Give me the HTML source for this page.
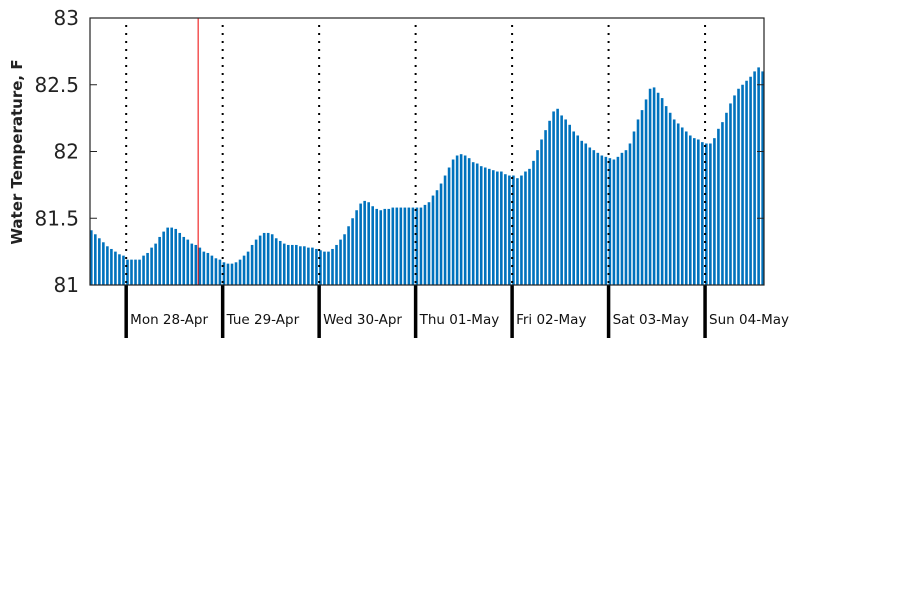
<!DOCTYPE html>
<html><head><meta charset="utf-8"><style>
html,body{margin:0;padding:0;background:#fff;}
svg{display:block;font-family:"DejaVu Sans","Liberation Sans",sans-serif;}
</style></head><body>
<svg id="chart" width="900" height="600" viewBox="0 0 900 600" xmlns="http://www.w3.org/2000/svg">
<g id="bars"></g>
<g id="grid"></g>
<g id="axes"></g>
<text transform="translate(22,152) rotate(-90)" text-anchor="middle" font-size="15" font-weight="bold" fill="#222">Water Temperature, F</text>
</svg>
<script>
const values = [81.41,81.38,81.35,81.32,81.29,81.27,81.25,81.23,81.22,
81.19,81.19,81.19,81.19,81.22,81.24,81.28,81.31,81.36,81.40,81.43,81.43,81.42,81.39,81.36,81.34,81.31,81.30,81.28,81.25,81.24,81.22,81.20,81.19,81.17,
81.16,81.16,81.17,81.19,81.22,81.25,81.30,81.34,81.37,81.39,81.39,81.38,81.35,81.33,81.31,81.30,81.30,81.30,81.29,81.29,81.28,81.28,81.27,81.26,
81.25,81.25,81.27,81.30,81.34,81.38,81.44,81.50,81.56,81.61,81.63,81.62,81.59,81.57,81.56,81.57,81.57,81.58,81.58,81.58,81.58,81.58,81.58,81.58,
81.58,81.60,81.62,81.67,81.71,81.76,81.82,81.88,81.94,81.97,81.98,81.97,81.95,81.92,81.91,81.89,81.88,81.87,81.86,81.85,81.85,81.83,81.82,81.82,
81.80,81.82,81.85,81.87,81.93,82.01,82.09,82.16,82.23,82.30,82.32,82.27,82.24,82.20,82.15,82.12,82.08,82.06,82.03,82.01,81.99,81.97,81.96,81.95,
81.94,81.96,81.99,82.01,82.06,82.15,82.24,82.31,82.39,82.47,82.48,82.44,82.40,82.34,82.29,82.24,82.21,82.18,82.15,82.12,82.10,82.09,82.07,82.06,
82.06,82.10,82.17,82.22,82.29,82.36,82.42,82.47,82.50,82.53,82.56,82.60,82.63,82.60];
const startHour = -9; // first bar hour relative to Mon 28-Apr 00:00
const dayLabels = ["Mon 28-Apr","Tue 29-Apr","Wed 30-Apr","Thu 01-May","Fri 02-May","Sat 03-May","Sun 04-May"];
const yTicks = [81,81.5,82,82.5,83];
const yTickLabels = ["81","81.5","82","82.5","83"];
const markerHour = 17.9;

const NS="http://www.w3.org/2000/svg";
const L=90,R=764,T=18,B=285;
const hStep=4.02;
const x=h=>L+(h-startHour)*hStep;
const y=v=>B-(v-81)/(83-81)*(B-T);
function mk(tag,attrs,parent){const e=document.createElementNS(NS,tag);for(const k in attrs)e.setAttribute(k,attrs[k]);parent.appendChild(e);return e;}
const gb=document.getElementById('bars'),gg=document.getElementById('grid'),ga=document.getElementById('axes');
values.forEach((v,i)=>{
  const h=startHour+i;
  const r=mk('rect',{x:x(h),y:y(v),width:2.6,height:B-y(v),fill:'#0072bd'},gb);
  
  
});
dayLabels.forEach((lab,d)=>{
  const xx=x(d*24);
  const dl=mk('line',{x1:xx,x2:xx,y1:T+7,y2:B,stroke:'#000','stroke-width':2,'stroke-dasharray':'2,6'},gg);
  
  
  const tk=mk('line',{x1:xx,x2:xx,y1:B,y2:338,stroke:'#000','stroke-width':3.5},ga);
  
  
  const t=mk('text',{x:xx+4,y:324,'font-size':13.5,fill:'#111'},ga);
  t.textContent=lab;
  
  
});
const red=mk('line',{x1:x(markerHour),x2:x(markerHour),y1:T,y2:B,stroke:'#e00','stroke-width':1},gg);


const frame=mk('rect',{x:L,y:T,width:R-L,height:B-T,fill:'none',stroke:'#222','stroke-width':1.2},ga);


yTicks.forEach((v,i)=>{
  const yy=y(v);
  mk('line',{x1:L,x2:L+7,y1:yy,y2:yy,stroke:'#222','stroke-width':1},ga);
  mk('line',{x1:R-7,x2:R,y1:yy,y2:yy,stroke:'#222','stroke-width':1},ga);
  const t=mk('text',{x:79,y:yy+7,'font-size':20,'text-anchor':'end',fill:'#222'},ga);
  t.textContent=yTickLabels[i];
  
  
});
</script>
</body></html>
